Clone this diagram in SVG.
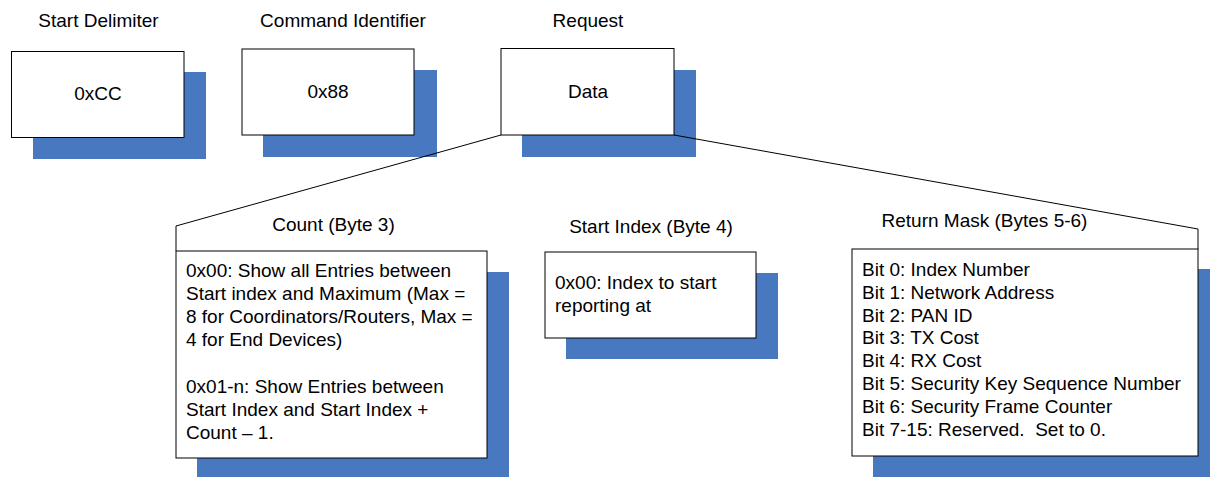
<svg xmlns="http://www.w3.org/2000/svg" width="1210" height="477" viewBox="0 0 1210 477">
<style>
text{font-family:"Liberation Sans",Arial,sans-serif;font-size:19px;fill:#000}
.c{text-anchor:middle}
.sh{fill:#4778C0}
.bx{fill:#fff;stroke:#000;stroke-width:1}
.ln{fill:none;stroke:#000;stroke-width:1}
</style>
<rect width="1210" height="477" fill="#fff"/>
<g id="start-delimiter">
<text class="c" x="98.5" y="27">Start Delimiter</text>
<rect class="sh" x="33" y="72" width="173" height="87"/>
<rect class="bx" x="11.5" y="51.5" width="172.5" height="86"/>
<text class="c" x="98" y="100">0xCC</text>
</g>
<g id="command-identifier">
<text class="c" x="343" y="27">Command Identifier</text>
<rect class="sh" x="263" y="70" width="174" height="87"/>
<rect class="bx" x="242" y="49" width="172" height="86"/>
<text class="c" x="328" y="98">0x88</text>
</g>
<g id="request">
<text class="c" x="588" y="27">Request</text>
<rect class="sh" x="522" y="70" width="174" height="87"/>
<rect class="bx" x="501" y="48.5" width="173" height="86.5"/>
<text class="c" x="588" y="98">Data</text>
</g>
<g id="connectors">
<polyline class="ln" points="501,135 176,226 176,251"/>
<polyline class="ln" points="674,135 1198,229 1198,249"/>
</g>
<g id="count">
<text class="c" x="333.5" y="231">Count (Byte 3)</text>
<rect class="sh" x="197" y="272" width="312" height="205"/>
<rect class="bx" x="176" y="251" width="311" height="207"/>
<text x="186" y="277">0x00: Show all Entries between</text>
<text x="186" y="300">Start index and Maximum (Max =</text>
<text x="186" y="323">8 for Coordinators/Routers, Max =</text>
<text x="186" y="346">4 for End Devices)</text>
<text x="186" y="393">0x01-n: Show Entries between</text>
<text x="186" y="416">Start Index and Start Index +</text>
<text x="186" y="439">Count – 1.</text>
</g>
<g id="start-index">
<text class="c" x="651" y="233">Start Index (Byte 4)</text>
<rect class="sh" x="566" y="273" width="212" height="86"/>
<rect class="bx" x="545" y="252" width="211" height="86"/>
<text x="555" y="289">0x00: Index to start</text>
<text x="555" y="312">reporting at</text>
</g>
<g id="return-mask">
<text class="c" x="984.5" y="227">Return Mask (Bytes 5-6)</text>
<rect class="sh" x="873" y="269" width="340" height="208"/>
<rect class="bx" x="852" y="249" width="346" height="207"/>
<text x="862" y="276">Bit 0: Index Number</text>
<text x="862" y="299">Bit 1: Network Address</text>
<text x="862" y="322">Bit 2: PAN ID</text>
<text x="862" y="344">Bit 3: TX Cost</text>
<text x="862" y="367">Bit 4: RX Cost</text>
<text x="862" y="390">Bit 5: Security Key Sequence Number</text>
<text x="862" y="413">Bit 6: Security Frame Counter</text>
<text x="862" y="436">Bit 7-15: Reserved.&#160; Set to 0.</text>
</g>
</svg>
